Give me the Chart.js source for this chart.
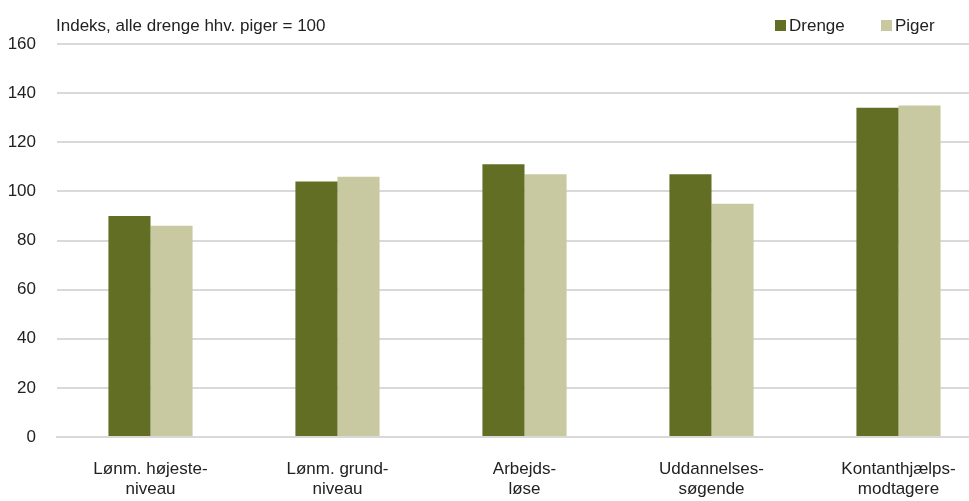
<!DOCTYPE html>
<html>
<head>
<meta charset="utf-8">
<script src="https://cdn.jsdelivr.net/npm/chart.js@4"></script>
<style>
    body { margin: 0; background: #fff; }
    #wrap { position: relative; width: 969px; height: 501px; overflow: hidden; }
    #box { position: absolute; left: 0; top: 0; width: 995px; height: 501px; }
    .txt { position: absolute; font-family: "Liberation Sans Narrow", "Arial Narrow", Arial, sans-serif; font-size: 17px; color: #222; white-space: nowrap; }
    .sq { display: inline-block; width: 11px; height: 11px; margin-right: 3px; vertical-align: 0px; }
</style>
</head>
<body>
<div id="wrap">
    <div id="box"><canvas id="barChart"></canvas></div>
    <div class="txt" style="left:56px; top:16px;">Indeks, alle drenge hhv. piger = 100</div>
    <div class="txt" style="left:775px; top:16px;"><span class="sq" style="background:#626e24"></span>Drenge</div>
    <div class="txt" style="left:881px; top:16px;"><span class="sq" style="background:#c8c9a0"></span>Piger</div>
</div>
<script>
// categories (two lines each)
var categories = [
    ['Lønm. højeste-', 'niveau'],
    ['Lønm. grund-', 'niveau'],
    ['Arbejds-', 'løse'],
    ['Uddannelses-', 'søgende'],
    ['Kontanthjælps-', 'modtagere']
];
// series values
var drenge = [90, 104, 111, 107, 134];
var piger = [86, 106, 107, 95, 135];
// y axis ticks
var yMin = 0;
var yMax = 160;
var yStep = 20;

var fontFamily = '"Liberation Sans Narrow", "Arial Narrow", Arial, sans-serif';

// draw chart
var ctx = document.getElementById('barChart');
var barChart = new Chart(ctx, {
    type: 'bar',
    data: {
        labels: categories,
        datasets: [{
            label: 'Drenge',
            data: drenge,
            backgroundColor: '#626e24'
        }, {
            label: 'Piger',
            data: piger,
            backgroundColor: '#c8c9a0'
        }]
    },
    options: {
        responsive: true,
        maintainAspectRatio: false,
        animation: false,
        categoryPercentage: 0.45,
        barPercentage: 1.0,
        layout: { padding: { top: 44, right: 3, bottom: 0, left: 0 } },
        plugins: {
            legend: { display: false },
            tooltip: { enabled: false }
        },
        scales: {
            x: {
                grid: { display: false },
                border: { display: true, color: '#d9d9d9', width: 2 },
                ticks: {
                    color: '#222',
                    font: { family: fontFamily, size: 17 },
                    padding: 14,
                    maxRotation: 0,
                    autoSkip: false
                },
                afterFit: function (scale) { scale.height = 64; }
            },
            y: {
                min: yMin,
                max: yMax,
                grid: { color: '#d9d9d9', lineWidth: 2, drawTicks: false },
                border: { display: false },
                ticks: {
                    stepSize: yStep,
                    color: '#222',
                    font: { family: fontFamily, size: 17 },
                    padding: 21
                },
                afterFit: function (scale) { scale.width = 57; }
            }
        }
    }
});
</script>
</body>
</html>
